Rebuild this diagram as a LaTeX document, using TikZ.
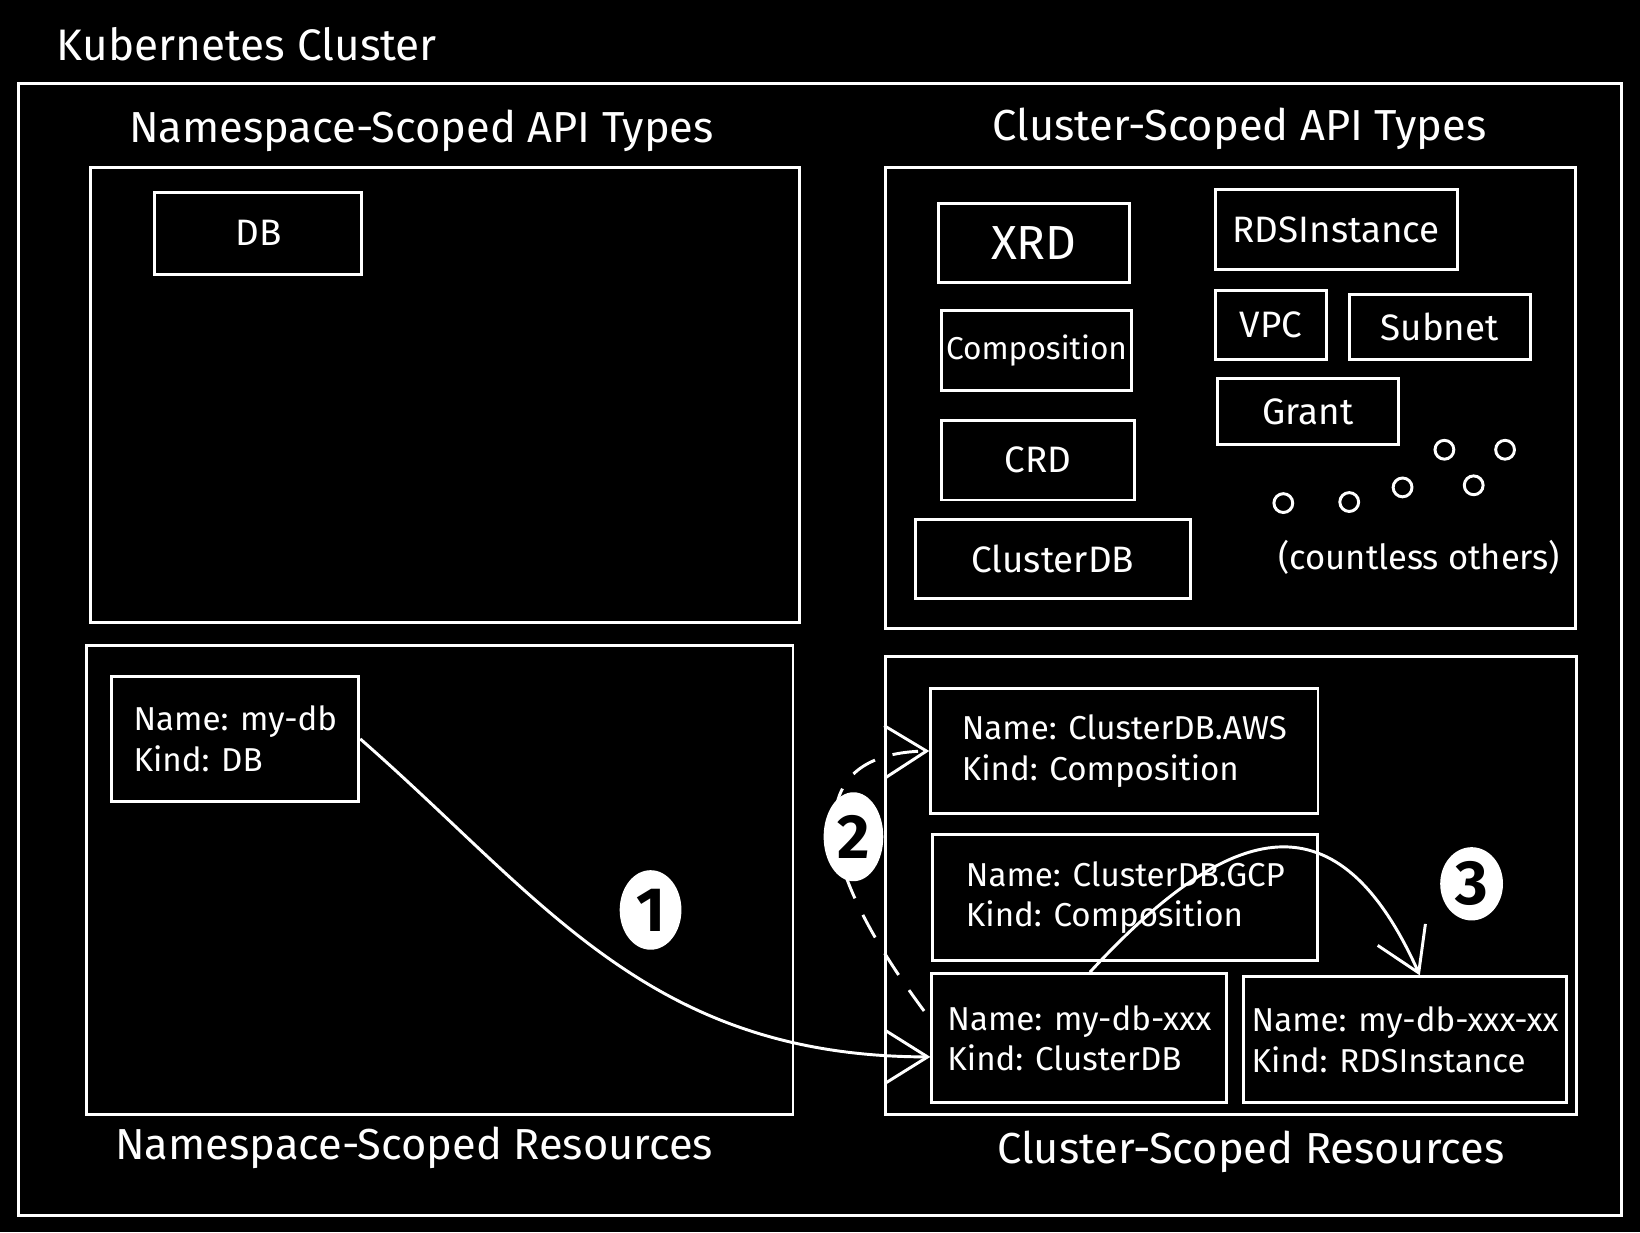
\documentclass[tikz,border=0pt]{standalone}
\usepackage{fontspec}
\setmainfont{Fira Sans}
\usetikzlibrary{arrows.meta,positioning,shapes.geometric}

\tikzset{
  sketch/.style={draw=white, line width=0.8pt},
  area/.style={sketch},
  typebox/.style={sketch, text=white, font=\fontsize{10}{12}\selectfont},
  recbox/.style={sketch, text=white, align=left, inner xsep=2pt, font=\fontsize{9}{11}\selectfont},
  heading/.style={text=white, font=\fontsize{11.8}{14}\selectfont},
  badge/.style={shape=ellipse, fill=white, text=black, inner sep=0pt, font=\fontsize{17}{17}\selectfont\bfseries},
}

\begin{document}
\begin{tikzpicture}[x=0.01cm,y=-0.01cm,>={Straight Barb[length=4mm,width=5mm]}]
		\fill[black] (0,0) rectangle (1568,1178);
		\useasboundingbox (0,0) rectangle (1568,1178);
		% cluster frame
		\node[heading, anchor=west, font=\fontsize{12}{14}\selectfont] (cluster) at (42,42) {Kubernetes Cluster};
		\draw[sketch] (18,80) rectangle (1550,1162);
		% four areas
		\node[area, minimum width=6.77cm, minimum height=4.35cm] (nsapi) at (425.5,377.5) {};
		\node[area, minimum width=6.59cm, minimum height=4.41cm] (csapi) at (1176.5,380.5) {};
		\node[area, minimum width=6.75cm, minimum height=4.48cm] (nsres) at (420.5,841) {};
		\node[area, minimum width=6.60cm, minimum height=4.37cm] (csres) at (1177,846.5) {};
		\node[heading] (nsapititle) at (403,125) {Namespace-Scoped API Types};
		\node[heading] (csapititle) at (1185,123) {Cluster-Scoped API Types};
		\node[heading] (nsrestitle) at (396,1097) {Namespace-Scoped Resources};
		\node[heading] (csrestitle) at (1196,1101) {Cluster-Scoped Resources};
		% API types
		\node[typebox, minimum width=1.98cm, minimum height=0.78cm] (db) at (247,223) {DB};
		\node[typebox, minimum width=1.83cm, minimum height=0.75cm, font=\fontsize{13}{15}\selectfont] (xrd) at (988.5,232.5) {XRD};
		\node[typebox, minimum width=1.82cm, minimum height=0.76cm, inner xsep=1pt, font=\fontsize{8.6}{10}\selectfont] (comp) at (991,335) {Composition};
		\node[typebox, minimum width=1.85cm, minimum height=0.76cm] (crd) at (992.5,440) {CRD};
		\node[typebox, minimum width=2.63cm, minimum height=0.75cm] (clusterdb) at (1006.5,534.5) {ClusterDB};
		\node[typebox, minimum width=2.31cm, minimum height=0.77cm] (rds) at (1277.5,219.5) {RDSInstance};
		\node[typebox, minimum width=1.06cm, minimum height=0.66cm] (vpc) at (1215,311) {VPC};
		\node[typebox, minimum width=1.73cm, minimum height=0.62cm] (subnet) at (1376.5,313) {Subnet};
		\node[typebox, minimum width=1.73cm, minimum height=0.63cm] (grant) at (1250.5,393.5) {Grant};
		\foreach \x/\y in {1381/430,1439/430,1227/481,1290/480,1341/466,1409/464}
			\draw[sketch] (\x,\y) circle [radius=0.09cm];
		\node[heading, font=\fontsize{9.4}{11}\selectfont] (others) at (1357,533) {(countless others)};
		% resources
		\node[recbox, minimum width=2.36cm, minimum height=1.19cm] (mydb) at (225,706.5) {Name: my-db\\Kind: DB};
		\node[recbox, minimum width=3.70cm, minimum height=1.20cm] (aws) at (1075,718) {Name: ClusterDB.AWS\\Kind: Composition};
		\node[recbox, minimum width=3.68cm, minimum height=1.20cm] (gcp) at (1076,858) {Name: ClusterDB.GCP\\Kind: Composition};
		\node[recbox, minimum width=2.82cm, minimum height=1.23cm] (xxx) at (1032,992.5) {Name: my-db-xxx\\Kind: ClusterDB};
		\node[recbox, minimum width=3.09cm, minimum height=1.20cm] (xxxxx) at (1343.5,994) {Name: my-db-xxx-xx\\Kind: RDSInstance};
		% steps
		\draw[sketch,->] (mydb.east) .. controls (520,860) and (620,1010) .. ([yshift=-0.18cm]xxx.west);
		\draw[sketch,->,dash pattern=on 7pt off 5pt] ([xshift=-0.06cm,yshift=-0.37cm]xxx.north west) .. controls (760,800) and (780,720) .. (aws.west);
		\draw[sketch,->] ([xshift=0.1cm]xxx.north) .. controls (1180,780) and (1280,760) .. ([xshift=0.14cm]xxxxx.north);
		\node[badge, minimum width=0.59cm, minimum height=0.76cm] (one) at (622,870) {1};
		\node[badge, minimum width=0.57cm, minimum height=0.85cm] (two) at (816,800) {2};
		\node[badge, minimum width=0.60cm, minimum height=0.70cm] (three) at (1407,845) {3};
\end{tikzpicture}
\end{document}
